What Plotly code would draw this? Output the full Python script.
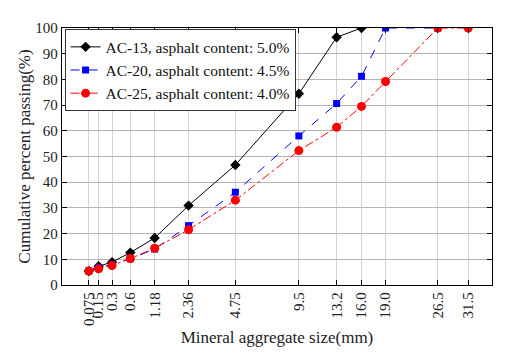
import numpy as np
import plotly.graph_objects as go

# sieve sizes (mm) and gradations (% passing)
sizes = [0.075, 0.15, 0.3, 0.6, 1.18, 2.36, 4.75, 9.5, 13.2, 16.0, 19.0, 26.5, 31.5]
size_labels = ['0.075', '0.15', '0.3', '0.6', '1.18', '2.36', '4.75', '9.5',
               '13.2', '16.0', '19.0', '26.5', '31.5']

ac13_sizes = [0.075, 0.15, 0.3, 0.6, 1.18, 2.36, 4.75, 9.5, 13.2, 16.0]
ac13_pass = [5.4, 7.3, 8.9, 12.6, 18.3, 30.9, 46.7, 74.4, 96.4, 100]

ac20_sizes = [0.075, 0.15, 0.3, 0.6, 1.18, 2.36, 4.75, 9.5, 13.2, 16.0, 19.0, 26.5]
ac20_pass = [5.5, 6.8, 8.0, 10.2, 14.0, 23.1, 36.1, 58.0, 70.6, 81.2, 100, 100]

ac25_sizes = [0.075, 0.15, 0.3, 0.6, 1.18, 2.36, 4.75, 9.5, 13.2, 16.0, 19.0, 26.5, 31.5]
ac25_pass = [5.4, 6.3, 7.6, 10.3, 14.3, 21.5, 33.0, 52.3, 61.4, 69.5, 79.2, 100, 100]

# gradation chart: x axis on a 0.45 power scale
p = 0.45
def px(v):
    return np.array(v) ** p

font = 'Liberation Serif'

fig = go.Figure()
fig.add_trace(go.Scatter(x=px(ac13_sizes), y=ac13_pass, mode='lines+markers',
                         name='AC-13, asphalt content: 5.0%',
                         line=dict(color='black', width=1),
                         marker=dict(symbol='diamond', size=8, color='black')))
fig.add_trace(go.Scatter(x=px(ac20_sizes), y=ac20_pass, mode='lines+markers',
                         name='AC-20, asphalt content: 4.5%',
                         line=dict(color='blue', width=1, dash='dash'),
                         marker=dict(symbol='square', size=7, color='blue')))
fig.add_trace(go.Scatter(x=px(ac25_sizes), y=ac25_pass, mode='lines+markers',
                         name='AC-25, asphalt content: 4.0%',
                         line=dict(color='red', width=1, dash='dashdot'),
                         marker=dict(symbol='circle', size=9, color='red')))

axis_common = dict(showline=True, linecolor='black', linewidth=1.3, mirror='ticks',
                   ticks='inside', ticklen=5, tickcolor='black', automargin=False,
                   showgrid=True, gridwidth=1, zeroline=False,
                   tickfont=dict(family=font, size=15, color='#222'))

fig.update_xaxes(range=[0, 5], tickvals=px(sizes), ticktext=size_labels, tickangle=-90,
                 gridcolor='#d2d2d2',
                 title=dict(text='Mineral aggregate size(mm)', standoff=6,
                            font=dict(family=font, size=17, color='#222')),
                 **axis_common)
fig.update_yaxes(range=[0, 100], dtick=10, gridcolor='#b4b4b4',
                 title=dict(text='Cumulative percent passing(%)', standoff=0,
                            font=dict(family=font, size=17, color='#222')),
                 **axis_common)

# page body adds an 8px margin, so the figure is sized to the visible area
fig.update_layout(
    width=511, height=353,
    margin=dict(l=54, r=27, t=20, b=76),
    plot_bgcolor='white', paper_bgcolor='white',
    font=dict(family=font, size=15, color='#222'),
    legend=dict(x=0.006, y=0.995, xanchor='left', yanchor='top',
                bgcolor='white', bordercolor='#333', borderwidth=1,
                font=dict(family=font, size=15.5, color='#111'),
                tracegroupgap=0, itemwidth=30),
)

fig.write_html('out.html')
